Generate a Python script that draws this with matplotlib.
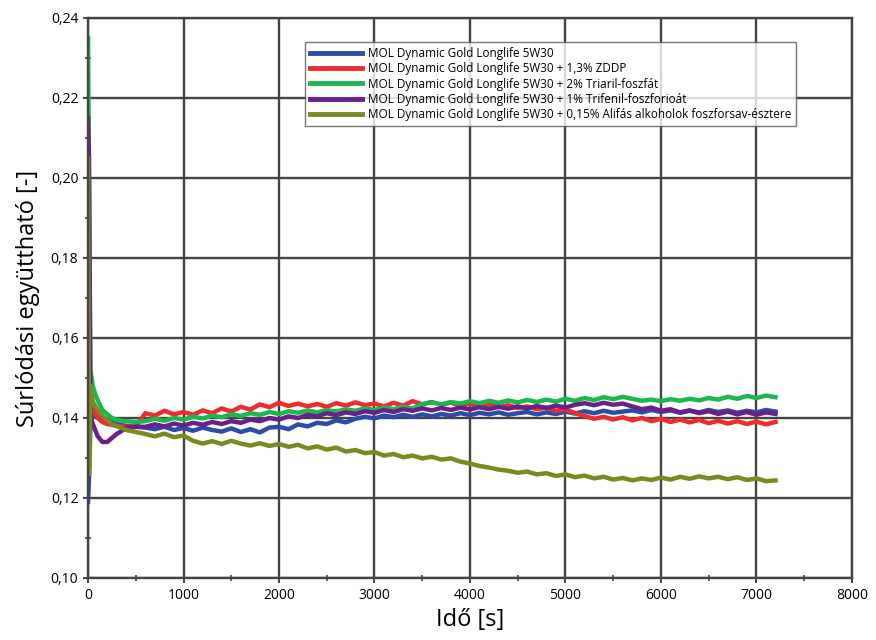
import numpy as np
import matplotlib
matplotlib.use("Agg")
import matplotlib.pyplot as plt
from matplotlib.ticker import FuncFormatter, MultipleLocator

plt.rcParams['font.family'] = ['Open Sans', 'DejaVu Sans']

# time axis [s]: dense at the start, then every 100 s
t_early = [0, 10, 25, 50, 75, 100, 150, 200, 250, 300, 400, 500]
t_late = list(range(600, 7300, 100))
time_s = np.array(t_early + t_late)

# friction coefficient values, in thousandths
base = [119, 125, 138, 142, 141.5, 141, 140, 139.5, 139, 138.5, 138, 137.8,
        137.6, 137.2, 137.8, 137.0, 137.5, 136.8, 137.6, 137.0, 136.6, 137.4,
        136.5, 137.2, 136.4, 137.6, 137.8, 137.2, 138.4, 137.9, 138.8, 138.5,
        139.4, 138.9, 139.8, 140.3, 139.9, 140.6, 140.2, 140.8, 140.3, 140.9,
        140.4, 141.0, 140.6, 141.2, 140.7, 141.3, 140.9, 141.4, 140.8, 141.2,
        141.5, 140.9, 141.4, 141.0, 141.6, 141.1, 141.7, 141.2, 141.8, 141.3,
        141.6, 141.9, 141.4, 142.0, 141.5, 141.9, 141.3, 141.8, 141.4, 142.0,
        141.5, 141.9, 141.3, 141.8, 141.4, 142.0, 141.6]
zddp = [150, 148, 145, 142, 141, 140, 139, 138.5, 138.3, 138, 137.8, 137.8,
        141.2, 140.6, 141.8, 140.9, 141.5, 140.8, 141.9, 141.2, 142.4, 141.6,
        142.8, 142.1, 143.4, 142.7, 143.8, 143.0, 143.6, 142.9, 143.5, 142.8,
        143.7, 143.1, 143.9, 143.2, 143.6, 142.9, 143.8, 143.1, 144.2, 143.4,
        144.0, 143.3, 143.9, 143.0, 143.6, 142.8, 143.4, 142.7, 143.2, 142.5,
        142.9, 142.2, 142.6, 141.8, 142.2, 141.2, 140.5, 139.8, 140.3, 139.6,
        140.2, 139.4, 140.0, 139.2, 139.8, 139.0, 139.6, 138.9, 139.5, 138.7,
        139.3, 138.6, 139.2, 138.5, 139.1, 138.4, 139.0]
triaril = [235, 200, 152, 148, 146, 144.5, 142, 141, 140, 139.5, 139.2, 139,
           139.2, 139.8, 139.3, 140.0, 139.6, 140.3, 139.9, 140.6, 140.2, 140.9,
           140.5, 141.2, 140.8, 141.5, 141.0, 141.7, 141.3, 141.9, 141.4, 142.0,
           141.6, 142.2, 141.8, 142.4, 142.0, 142.6, 142.2, 142.8, 142.4, 143.5,
           143.9, 143.4, 144.0, 143.6, 144.2, 143.7, 144.3, 143.8, 144.4, 143.9,
           144.5, 144.0, 144.6, 144.1, 144.8, 144.3, 145.0, 144.5, 145.2, 144.7,
           145.3, 144.8, 144.3, 144.6, 144.2, 144.7, 144.3, 144.8, 144.4, 145.0,
           144.6, 145.3, 144.8, 145.5, 145.0, 145.6, 145.2]
trifenil = [215, 205, 140, 138.5, 137, 135.5, 134, 134, 135, 136, 137.5, 137.8,
            137.8, 138.4, 137.9, 138.6, 138.1, 138.8, 138.3, 139.0, 138.5, 139.2,
            138.8, 139.6, 139.2, 140.0, 139.6, 140.4, 140.0, 140.8, 140.4, 141.2,
            140.7, 141.4, 141.0, 141.7, 141.3, 142.0, 141.5, 142.2, 141.8, 142.4,
            141.9, 142.5, 142.0, 142.6, 142.1, 142.7, 142.2, 142.8, 142.3, 142.9,
            142.4, 143.0, 142.5, 143.1, 142.6, 143.3, 143.7, 143.2, 143.8, 143.3,
            143.6, 142.9, 142.2, 142.6, 141.8, 142.2, 141.4, 141.9, 141.2, 141.7,
            141.0, 141.6, 140.9, 141.5, 140.8, 141.4, 141.0]
alifas = [205, 126, 148, 144, 143, 142, 140.5, 139.5, 138.5, 138, 137, 136.5,
          136.0, 135.4, 136.1, 135.2, 135.6, 134.3, 133.6, 134.2, 133.5, 134.3,
          133.6, 133.1, 133.7, 133.0, 133.5, 132.8, 133.3, 132.4, 132.9, 132.1,
          132.6, 131.6, 132.0, 131.2, 131.5, 130.6, 131.0, 130.2, 130.6, 129.9,
          130.3, 129.6, 129.9, 129.1, 128.6, 128.0, 127.6, 127.1, 126.8, 126.3,
          126.6, 125.9, 126.2, 125.5, 125.9, 125.2, 125.6, 124.9, 125.3, 124.6,
          125.0, 124.4, 124.9, 124.5, 125.1, 124.6, 125.3, 124.8, 125.4, 124.9,
          125.3, 124.7, 125.2, 124.5, 124.9, 124.2, 124.4]

labels = [
    "MOL Dynamic Gold Longlife 5W30",
    "MOL Dynamic Gold Longlife 5W30 + 1,3% ZDDP",
    "MOL Dynamic Gold Longlife 5W30 + 2% Triaril-foszfát",
    "MOL Dynamic Gold Longlife 5W30 + 1% Trifenil-foszforioát",
    "MOL Dynamic Gold Longlife 5W30 + 0,15% Alifás alkoholok foszforsav-észtere",
]
series = [base, zddp, triaril, trifenil, alifas]
colors = ["#2b4ca8", "#ee2b2e", "#1bb84e", "#6a2088", "#7a8a22"]

fig = plt.figure(figsize=(8.76, 6.4), dpi=100)
ax = fig.add_axes([0.1005, 0.0969, 0.872, 0.875])

for vals, lab, col in zip(series, labels, colors):
    ax.plot(time_s, np.array(vals) / 1000.0, color=col, lw=3.2, label=lab,
            solid_joinstyle='round')

ax.set_xlim(0, 8000)
ax.set_ylim(0.10, 0.24)
ax.xaxis.set_major_locator(MultipleLocator(1000))
ax.xaxis.set_minor_locator(MultipleLocator(500))
ax.yaxis.set_major_locator(MultipleLocator(0.02))
ax.yaxis.set_minor_locator(MultipleLocator(0.01))
ax.yaxis.set_major_formatter(FuncFormatter(lambda v, p: f"{v:.2f}".replace(".", ",")))

ax.grid(True, which='major', color="#444444", lw=1.7)
ax.set_axisbelow(True)
for s in ax.spines.values():
    s.set_color("#444444")
    s.set_linewidth(1.7)
ax.tick_params(which='both', direction='inout', color="#444444", labelsize=10)
ax.tick_params(which='major', length=7, width=1.4)
ax.tick_params(which='minor', length=5, width=1.2)

ax.set_xlabel("Idő [s]", fontsize=17, labelpad=4)
ax.set_ylabel("Súrlódási együttható [-]", fontsize=17, labelpad=8)

leg = ax.legend(loc='upper left', bbox_to_anchor=(0.284, 0.957), fontsize=8.5,
                handlelength=4.4, handletextpad=0.5, labelspacing=0.2,
                frameon=True, fancybox=False, borderpad=0.4, borderaxespad=0)
leg.get_frame().set_edgecolor("#555555")
leg.get_frame().set_linewidth(1.0)
for h in leg.get_lines():
    h.set_linewidth(3.5)

fig.savefig("out.png", dpi=100)
